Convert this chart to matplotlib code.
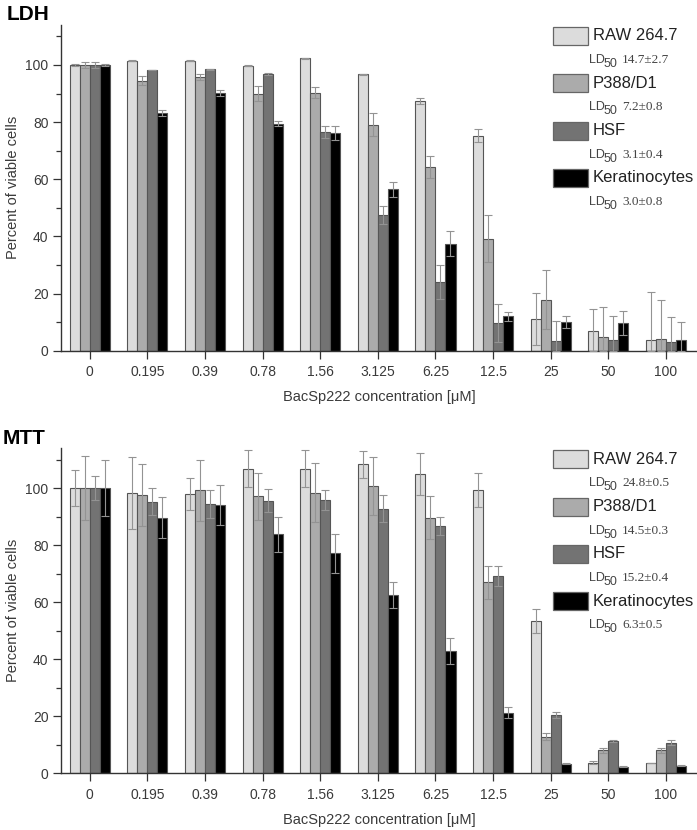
import numpy as np
import matplotlib
matplotlib.use("Agg")
from matplotlib import pyplot as plt
from matplotlib.patches import Rectangle

plt.rcParams['font.family'] = ['Liberation Sans', 'DejaVu Sans']

concentrations = ['0', '0.195', '0.39', '0.78', '1.56', '3.125', '6.25', '12.5', '25', '50', '100']
cell_lines = ['RAW 264.7', 'P388/D1', 'HSF', 'Keratinocytes']
bar_colors = ['#dcdcdc', '#ababab', '#737373', '#000000']

# LDH assay
ldh_raw = [100, 101.5, 101.5, 99.8, 102.3, 96.7, 87.4, 75.3, 11.0, 7.0, 3.7]
ldh_p388 = [100, 94.5, 95.8, 90.0, 90.3, 79.1, 64.3, 39.2, 17.9, 4.7, 4.0]
ldh_hsf = [100, 98.3, 98.5, 96.8, 76.5, 47.4, 24.1, 9.7, 3.5, 3.7, 3.0]
ldh_kera = [100, 83.3, 90.3, 79.5, 76.3, 56.5, 37.5, 12.0, 10.0, 9.8, 3.7]
ldh_raw_err = [0.4, 0.1, 0.1, 0.1, 0.1, 0.2, 1.0, 2.2, 9.1, 7.5, 17.0]
ldh_p388_err = [1.0, 1.6, 1.0, 2.5, 2.0, 4.0, 4.0, 8.3, 10.3, 10.5, 13.8]
ldh_hsf_err = [1.0, 0.1, 0.1, 0.4, 2.0, 3.1, 6.0, 6.8, 7.0, 8.4, 8.7]
ldh_kera_err = [0.4, 1.0, 1.0, 1.0, 2.5, 2.7, 4.3, 1.7, 2.1, 4.2, 6.2]
ldh_ld50 = ['14.7\u00b12.7', '7.2\u00b10.8', '3.1\u00b10.4', '3.0\u00b10.8']

# MTT assay
mtt_raw = [100, 98.4, 97.9, 106.9, 106.9, 108.4, 105.0, 99.3, 53.4, 3.7, 3.6]
mtt_p388 = [100, 97.6, 99.3, 97.1, 98.4, 100.8, 89.6, 67.0, 12.9, 8.0, 8.0]
mtt_hsf = [100, 95.3, 94.6, 95.6, 95.8, 92.8, 86.7, 69.1, 20.4, 11.3, 10.8]
mtt_kera = [100, 89.7, 94.1, 83.9, 77.2, 62.5, 42.9, 21.2, 3.4, 2.3, 2.7]
mtt_raw_err = [6.3, 12.7, 5.6, 6.6, 6.6, 4.7, 7.5, 5.9, 4.2, 0.5, 0.1]
mtt_p388_err = [11.3, 10.8, 10.7, 8.4, 10.4, 10.1, 7.5, 5.7, 1.3, 0.8, 0.8]
mtt_hsf_err = [4.3, 4.7, 4.9, 4.1, 3.6, 4.7, 3.1, 3.5, 1.0, 0.3, 0.8]
mtt_kera_err = [9.8, 7.3, 7.1, 6.1, 6.8, 4.5, 4.5, 1.9, 0.3, 0.2, 0.2]
mtt_ld50 = ['24.8\u00b10.5', '14.5\u00b10.3', '15.2\u00b10.4', '6.3\u00b10.5']

W, H = 697, 830
bar_w = 0.174


def draw_panel(ax, title, title_x, values, errors, ld50):
  x = np.arange(len(concentrations))
  for i, (vals, errs) in enumerate(zip(values, errors)):
    xs = x + (i - 1.5) * bar_w
    vals = np.array(vals)
    errs = np.array(errs)
    ax.bar(xs, vals, width=bar_w, color=bar_colors[i], edgecolor='#555555',
           linewidth=0.8, zorder=2)
    # lower whisker never goes under the axis
    lower = np.minimum(errs, vals)
    ax.errorbar(xs, vals, yerr=[lower, errs], fmt='none', ecolor='#939393',
                elinewidth=0.8, capsize=3, capthick=0.8, zorder=3)

  ax.set_xlim(-0.5, 10.54)
  ax.set_ylim(0, 114)
  ax.set_xticks(x)
  ax.set_xticklabels(concentrations)
  ax.set_yticks([0, 20, 40, 60, 80, 100])
  ax.set_yticks([10, 30, 50, 70, 90, 110], minor=True)
  for s in ['top', 'right']:
    ax.spines[s].set_visible(False)
  for s in ['left', 'bottom']:
    ax.spines[s].set_color('#333333')
    ax.spines[s].set_linewidth(1.0)
  ax.tick_params(axis='both', which='major', length=5.5, width=0.9,
                 color='#333333', labelcolor='#3a3a3a', labelsize=10)
  ax.tick_params(axis='x', pad=5)
  ax.tick_params(axis='y', which='minor', length=3.5, width=0.9, color='#333333')
  ax.set_ylabel('Percent of viable cells', fontsize=10.5, color='#3a3a3a', labelpad=4)
  ax.set_xlabel('BacSp222 concentration [\u03bcM]', fontsize=10.5, color='#3a3a3a', labelpad=8)

  # manual legend with LD50 values
  fig = ax.figure
  bb = ax.get_position()
  top_px = H - bb.y1 * H
  for i, name in enumerate(cell_lines):
    yc = top_px + 11 + i * 47.3
    fig.patches.append(Rectangle((553 / W, 1 - (yc + 9) / H), 35 / W, 18 / H,
                                 transform=fig.transFigure, facecolor=bar_colors[i],
                                 edgecolor='#666666', linewidth=0.9))
    fig.text(593 / W, 1 - yc / H, name, fontsize=12, color='#222222', va='center')
    base = yc + 27
    fig.text(589 / W, 1 - base / H, 'LD', fontsize=9, color='#444444', va='baseline')
    fig.text(604 / W, 1 - (base + 4) / H, '50', fontsize=9, color='#444444', va='baseline')
    fig.text(622 / W, 1 - base / H, ld50[i], fontsize=9.5, color='#444444', va='baseline',
             family='Liberation Serif')

  fig.text(title_x / W, 1 - (top_px - 10) / H, title, fontsize=15,
           fontweight='bold', va='center', color='black')


fig = plt.figure(figsize=(W / 100, H / 100), dpi=100)
ax1 = fig.add_axes([61 / W, 1 - 350.7 / H, 636 / W, 325.7 / H])
ax2 = fig.add_axes([61 / W, 1 - 773.3 / H, 636 / W, 325.0 / H])

draw_panel(ax1, 'LDH', 7,
           [ldh_raw, ldh_p388, ldh_hsf, ldh_kera],
           [ldh_raw_err, ldh_p388_err, ldh_hsf_err, ldh_kera_err], ldh_ld50)
draw_panel(ax2, 'MTT', 3,
           [mtt_raw, mtt_p388, mtt_hsf, mtt_kera],
           [mtt_raw_err, mtt_p388_err, mtt_hsf_err, mtt_kera_err], mtt_ld50)

fig.savefig('out.png', dpi=100)
